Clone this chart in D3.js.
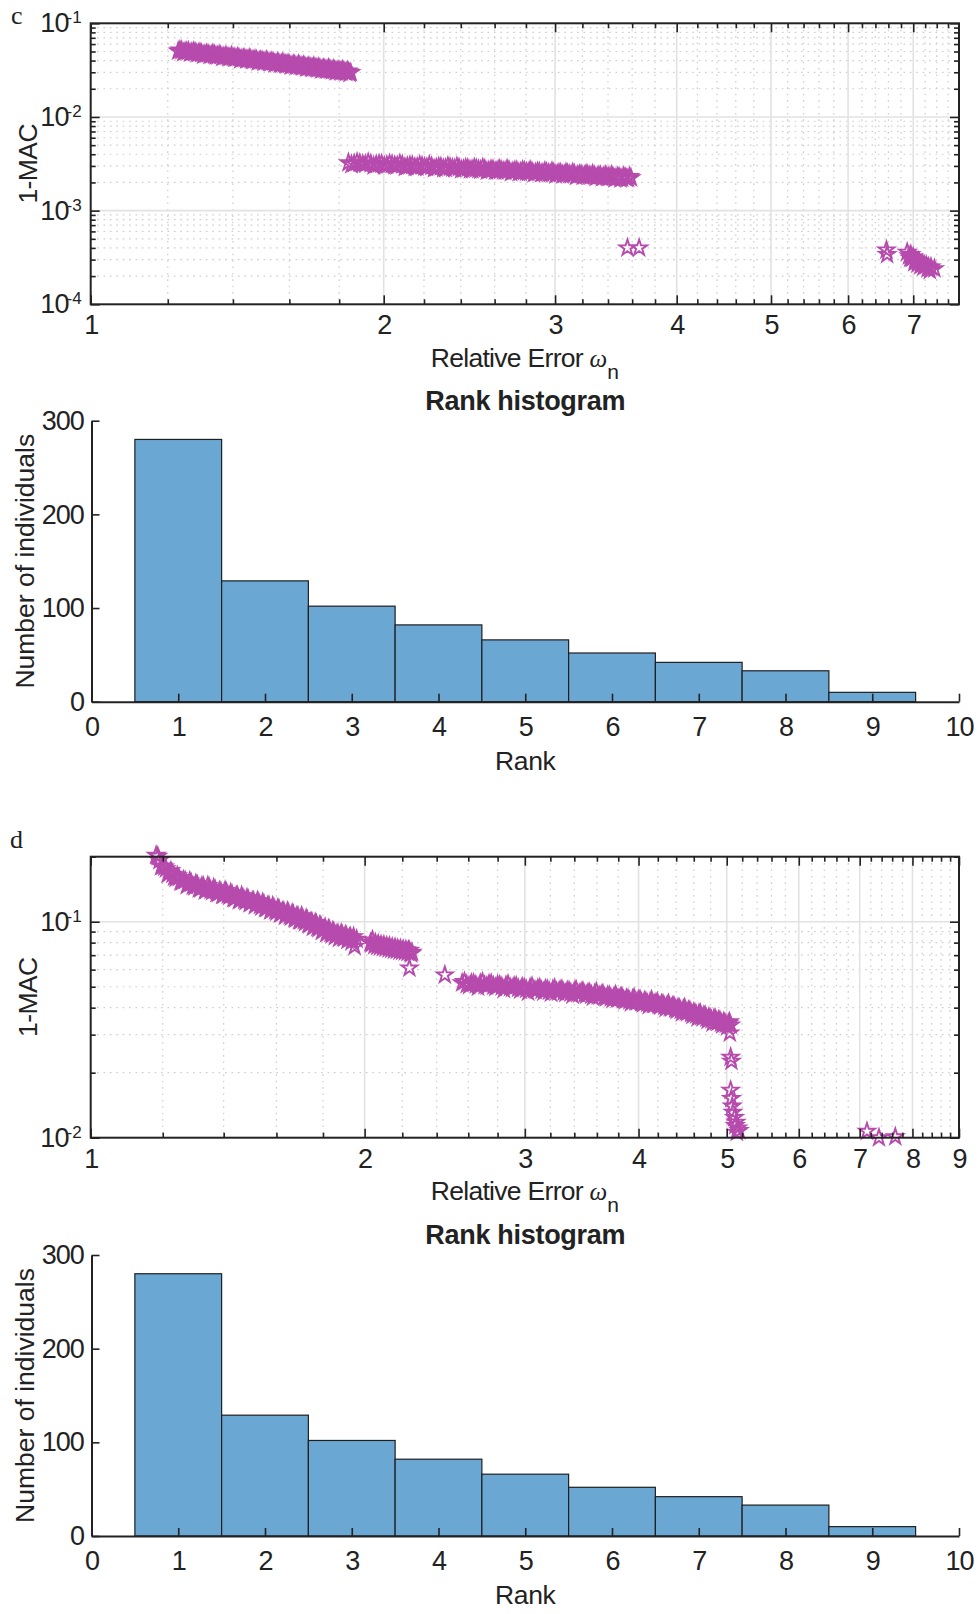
<!DOCTYPE html>
<html>
<head>
<meta charset="utf-8">
<script src="https://cdn.jsdelivr.net/npm/d3@7"></script>
<style>
  html, body { margin: 0; padding: 0; background: #fff; }
  svg { display: block; }
</style>
</head>
<body>
<script>
// ---------------- DATA ----------------
// Panel c scatter (Relative Error, 1-MAC)
const cBandA = [[1.23,.0505],[1.24,.0512],[1.25,.0498],[1.26,.0504],[1.27,.0490],[1.28,.0495],[1.29,.0480],[1.30,.0478],[1.31,.0466],[1.32,.0472],[1.33,.0460],[1.34,.0462],[1.35,.0449],[1.36,.0455],[1.37,.0441],[1.38,.0446],[1.39,.0432],[1.40,.0436],[1.41,.0425],[1.42,.0430],[1.43,.0418],[1.44,.0421],[1.45,.0410],[1.46,.0414],[1.47,.0402],[1.48,.0407],[1.49,.0396],[1.50,.0399],[1.51,.0388],[1.52,.0393],[1.53,.0381],[1.54,.0386],[1.55,.0374],[1.56,.0379],[1.57,.0368],[1.58,.0371],[1.59,.0361],[1.60,.0365],[1.61,.0355],[1.62,.0359],[1.63,.0349],[1.64,.0352],[1.65,.0344],[1.66,.0347],[1.67,.0338],[1.68,.0341],[1.69,.0332],[1.70,.0336],[1.71,.0327],[1.72,.0331],[1.73,.0322],[1.74,.0325],[1.75,.0318],[1.76,.0321],[1.77,.0313],[1.78,.0316],[1.79,.0308],[1.80,.0312],[1.81,.0304],[1.82,.0308],[1.83,.0300],[1.84,.0303],[1.85,.0298]];
const cBandA2 = [[1.235,.0517],[1.245,.0487],[1.255,.0502],[1.265,.0482],[1.275,.0502],[1.285,.0477],[1.295,.0488],[1.305,.0459],[1.315,.0474],[1.325,.0455],[1.335,.0474],[1.345,.0451],[1.355,.0460],[1.365,.0434],[1.375,.0447],[1.385,.0430],[1.395,.0448],[1.405,.0427],[1.415,.0436],[1.425,.0410],[1.435,.0423],[1.445,.0408],[1.455,.0424],[1.465,.0404],[1.475,.0413],[1.485,.0389],[1.495,.0401],[1.505,.0386],[1.515,.0403],[1.525,.0383],[1.535,.0392],[1.545,.0370],[1.555,.0382],[1.565,.0367],[1.575,.0382],[1.585,.0364],[1.595,.0372],[1.605,.0351],[1.615,.0363],[1.625,.0349],[1.635,.0365],[1.645,.0347],[1.655,.0355],[1.665,.0335],[1.675,.0346],[1.685,.0333],[1.695,.0347],[1.705,.0332],[1.715,.0339],[1.725,.0320],[1.735,.0330],[1.745,.0319],[1.755,.0332],[1.765,.0317],[1.775,.0324],[1.785,.0306],[1.795,.0316],[1.805,.0305],[1.815,.0317],[1.825,.0303],[1.835,.0310],[1.845,.0293]];
const cBandB = [[1.840,.00325],[1.865,.00318],[1.890,.00322],[1.915,.00314],[1.940,.00318],[1.965,.00311],[1.990,.00315],[2.015,.00306],[2.040,.00312],[2.065,.00303],[2.090,.00309],[2.115,.00298],[2.140,.00304],[2.165,.00293],[2.190,.00301],[2.215,.00290],[2.240,.00297],[2.265,.00287],[2.290,.00294],[2.315,.00284],[2.340,.00291],[2.365,.00281],[2.390,.00288],[2.415,.00278],[2.440,.00284],[2.465,.00275],[2.490,.00282],[2.515,.00272],[2.540,.00279],[2.565,.00269],[2.590,.00276],[2.615,.00267],[2.640,.00273],[2.665,.00264],[2.690,.00270],[2.715,.00262],[2.740,.00268],[2.765,.00259],[2.790,.00265],[2.815,.00257],[2.840,.00262],[2.865,.00254],[2.890,.00260],[2.915,.00252],[2.940,.00257],[2.965,.00249],[2.990,.00255],[3.015,.00247],[3.040,.00252],[3.065,.00244],[3.090,.00250],[3.115,.00241],[3.140,.00247],[3.165,.00239],[3.190,.00244],[3.215,.00236],[3.240,.00242],[3.265,.00234],[3.290,.00239],[3.315,.00231],[3.340,.00237],[3.365,.00229],[3.390,.00234],[3.415,.00227],[3.440,.00232],[3.465,.00225],[3.490,.00230],[3.515,.00223],[3.540,.00228],[3.565,.00221],[3.590,.00224]];
const cBandB2 = [[1.853,.00311],[1.878,.00329],[1.903,.00314],[1.928,.00328],[1.953,.00301],[1.978,.00315],[2.003,.00301],[2.028,.00317],[2.053,.00304],[2.078,.00317],[2.103,.00291],[2.128,.00304],[2.153,.00291],[2.178,.00307],[2.203,.00293],[2.228,.00307],[2.253,.00281],[2.278,.00295],[2.303,.00282],[2.328,.00298],[2.353,.00285],[2.378,.00297],[2.403,.00274],[2.428,.00286],[2.453,.00273],[2.478,.00287],[2.503,.00275],[2.528,.00287],[2.553,.00264],[2.578,.00276],[2.603,.00264],[2.628,.00279],[2.653,.00266],[2.678,.00279],[2.703,.00256],[2.728,.00268],[2.753,.00256],[2.778,.00271],[2.803,.00259],[2.828,.00270],[2.853,.00249],[2.878,.00261],[2.903,.00249],[2.928,.00264],[2.953,.00251],[2.978,.00263],[3.003,.00242],[3.028,.00253],[3.053,.00242],[3.078,.00254],[3.103,.00244],[3.128,.00255],[3.153,.00233],[3.178,.00244],[3.203,.00234],[3.228,.00247],[3.253,.00236],[3.278,.00246],[3.303,.00227],[3.328,.00237],[3.353,.00226],[3.378,.00239],[3.403,.00229],[3.428,.00239],[3.453,.00219],[3.478,.00229],[3.503,.00219],[3.528,.00232],[3.553,.00221],[3.578,.00231]];
const cOutliers = [[3.56,.00040],[3.66,.00040],[6.57,.00038],[6.58,.00034],[6.90,.00036],[6.93,.00033],[6.95,.00031],[6.96,.00034],[6.98,.00031],[7.00,.00032],[7.02,.00028],[7.03,.00030],[7.05,.00029],[7.07,.00027],[7.08,.00029],[7.10,.00028],[7.12,.00026],[7.13,.00027],[7.16,.00027],[7.17,.00025],[7.19,.00026],[7.22,.00026],[7.24,.00024],[7.26,.00025],[7.28,.00023],[7.30,.00025],[7.36,.00024]];

// Panel d scatter
const dBandA = [[1.18,.203],[1.19,.192],[1.20,.181],[1.21,.176],[1.22,.168],[1.23,.166],[1.24,.159],[1.25,.160],[1.26,.153],[1.27,.155],[1.28,.149],[1.29,.151],[1.30,.145],[1.31,.148],[1.32,.142],[1.33,.146],[1.34,.140],[1.35,.144],[1.36,.138],[1.37,.141],[1.38,.135],[1.39,.138],[1.40,.133],[1.41,.137],[1.42,.131],[1.43,.134],[1.44,.128],[1.45,.132],[1.46,.126],[1.47,.129],[1.48,.124],[1.49,.127],[1.50,.122],[1.51,.125],[1.52,.120],[1.53,.123],[1.54,.117],[1.55,.121],[1.56,.115],[1.57,.119],[1.58,.113],[1.59,.116],[1.60,.111],[1.61,.115],[1.62,.109],[1.63,.112],[1.64,.107],[1.65,.110],[1.66,.105],[1.67,.108],[1.68,.103],[1.69,.106],[1.70,.101],[1.71,.104],[1.72,.099],[1.73,.102],[1.74,.097],[1.75,.100],[1.76,.095],[1.77,.098],[1.78,.093],[1.79,.096],[1.80,.091],[1.81,.094],[1.82,.089],[1.83,.092],[1.84,.087],[1.85,.090],[1.86,.086],[1.87,.088],[1.88,.085],[1.89,.087],[1.90,.084],[1.91,.086],[1.92,.083],[1.93,.085],[1.94,.082],[1.95,.0767],[1.96,.083]];
const dBandA2 = [[1.185,.201],[1.195,.180],[1.205,.179],[1.215,.166],[1.225,.172],[1.235,.161],[1.245,.163],[1.255,.153],[1.265,.156],[1.275,.147],[1.285,.1545],[1.295,.1465],[1.305,.150],[1.315,.142],[1.325,.146],[1.335,.139],[1.345,.147],[1.355,.140],[1.365,.1435],[1.375,.1355],[1.385,.139],[1.395,.1325],[1.405,.1395],[1.415,.133],[1.425,.136],[1.435,.1285],[1.445,.132],[1.455,.1255],[1.465,.132],[1.475,.1257],[1.485,.129],[1.495,.1215],[1.505,.1247],[1.515,.1188],[1.525,.1251],[1.535,.1193],[1.545,.1225],[1.555,.1154],[1.565,.1184],[1.575,.1125],[1.585,.1182],[1.595,.1125],[1.605,.1153],[1.615,.1087],[1.625,.1116],[1.635,.1062],[1.645,.1118],[1.655,.1065],[1.665,.1095],[1.675,.1034],[1.685,.1063],[1.695,.1013],[1.705,.1065],[1.715,.1012],[1.725,.1035],[1.735,.0973],[1.745,.0996],[1.755,.0945],[1.765,.0991],[1.775,.0941],[1.785,.0961],[1.795,.0903],[1.805,.0925],[1.815,.0881],[1.825,.0927],[1.835,.0883],[1.845,.0906],[1.855,.0855],[1.865,.0880],[1.875,.0839],[1.885,.0885],[1.895,.0844],[1.905,.0868],[1.915,.0821],[1.925,.0845],[1.935,.0807],[1.945,.0852]];
const dClusterB = [[2.03,.0800],[2.035,.0790],[2.04,.0823],[2.05,.0775],[2.055,.0800],[2.065,.0770],[2.07,.0790],[2.08,.0765],[2.085,.0782],[2.095,.0760],[2.10,.0780],[2.11,.0755],[2.115,.0772],[2.125,.0750],[2.13,.0770],[2.14,.0745],[2.145,.0762],[2.155,.0740],[2.16,.0760],[2.17,.0738],[2.175,.0752],[2.185,.0732],[2.19,.0750],[2.20,.0730],[2.205,.0745],[2.215,.0725],[2.22,.0742],[2.23,.0722],[2.235,.0738],[2.24,.0735],[2.245,.0718],[2.25,.0710],[2.255,.0722],[2.24,.0610],[2.45,.0567]];
const dBandC = [[2.56,.0521],[2.59,.0512],[2.62,.0520],[2.65,.0510],[2.68,.0518],[2.71,.0507],[2.74,.0515],[2.77,.0504],[2.80,.0511],[2.83,.0500],[2.86,.0507],[2.89,.0496],[2.92,.0503],[2.95,.0492],[2.98,.0499],[3.01,.0487],[3.04,.0495],[3.07,.0484],[3.10,.0491],[3.13,.0481],[3.16,.0488],[3.19,.0478],[3.22,.0486],[3.25,.0475],[3.28,.0483],[3.31,.0472],[3.34,.0480],[3.37,.0469],[3.40,.0477],[3.43,.0466],[3.46,.0473],[3.49,.0462],[3.52,.0469],[3.55,.0458],[3.58,.0465],[3.61,.0454],[3.64,.0460],[3.67,.0449],[3.70,.0456],[3.73,.0445],[3.76,.0451],[3.79,.0440],[3.82,.0447],[3.85,.0436],[3.88,.0442],[3.91,.0431],[3.94,.0438],[3.97,.0427],[4.00,.0434],[4.03,.0423],[4.06,.0430],[4.09,.0419],[4.12,.0426],[4.15,.0415],[4.18,.0421],[4.21,.0411],[4.24,.0416],[4.27,.0406],[4.30,.0411],[4.33,.0401],[4.36,.0406],[4.39,.0395],[4.42,.0400],[4.45,.0389],[4.48,.0394],[4.51,.0383],[4.54,.0388],[4.57,.0377],[4.60,.0381],[4.63,.0371],[4.66,.0375],[4.69,.0364],[4.72,.0369],[4.75,.0358],[4.78,.0362],[4.81,.0352],[4.84,.0356],[4.87,.0346],[4.90,.0350],[4.93,.0340],[4.96,.0344],[4.99,.0336],[5.02,.0338],[5.05,.0332]];
const dBandC2 = [[2.575,.0528],[2.605,.0506],[2.635,.0520],[2.665,.0498],[2.695,.0526],[2.725,.0504],[2.755,.0518],[2.785,.0497],[2.815,.0510],[2.845,.0487],[2.875,.0514],[2.905,.0492],[2.935,.0505],[2.965,.0483],[2.995,.0495],[3.025,.0473],[3.055,.0502],[3.085,.0481],[3.115,.0495],[3.145,.0473],[3.175,.0487],[3.205,.0467],[3.235,.0493],[3.265,.0473],[3.295,.0486],[3.325,.0466],[3.355,.0479],[3.385,.0458],[3.415,.0485],[3.445,.0464],[3.475,.0477],[3.505,.0458],[3.535,.0470],[3.565,.0448],[3.595,.0474],[3.625,.0453],[3.655,.0465],[3.685,.0444],[3.715,.0456],[3.745,.0436],[3.775,.0459],[3.805,.0440],[3.835,.0450],[3.865,.0430],[3.895,.0440],[3.925,.0421],[3.955,.0445],[3.985,.0426],[4.015,.0437],[4.045,.0417],[4.075,.0428],[4.105,.0409],[4.135,.0434],[4.165,.0415],[4.195,.0425],[4.225,.0407],[4.255,.0416],[4.285,.0397],[4.315,.0418],[4.345,.0399],[4.375,.0408],[4.405,.0389],[4.435,.0398],[4.465,.0379],[4.495,.0400],[4.525,.0380],[4.555,.0388],[4.585,.0369],[4.615,.0377],[4.645,.0359],[4.675,.0378],[4.705,.0359],[4.735,.0367],[4.765,.0350],[4.795,.0358],[4.825,.0340],[4.855,.0358],[4.885,.0342],[4.915,.0349],[4.945,.0333],[4.975,.0341],[5.005,.0326],[5.035,.0344]];
const dTail = [[5.04,.0305],[5.05,.0236],[5.06,.0226],[5.05,.0166],[5.06,.0152],[5.07,.0140],[5.08,.0131],[5.10,.0124],[5.12,.0118],[5.11,.0114],[5.14,.0111],[5.16,.0108],[5.13,.0106],[7.13,.0107],[7.35,.0100],[7.66,.0101]];

// Rank histograms
const ranks = [1,2,3,4,5,6,7,8,9];
const cCounts = [280,129,102,82,66,52,42,33,10];
const dCounts = [280,129,102,82,66,52,42,33,10];

// Tick labels
const cXTicks = [1,2,3,4,5,6,7];
const cYTicks = [1e-1,1e-2,1e-3,1e-4];
const dXTicks = [1,2,3,4,5,6,7,8,9];
const dYTicks = [1e-1,1e-2];
const histXTicks = [0,1,2,3,4,5,6,7,8,9,10];
const histYTicks = [0,100,200,300];

// ---------------- DRAW ----------------
const W = 980, H = 1614;
const FONT = "'Liberation Sans', Arial, Helvetica, sans-serif";
const INK = "#222";
const STAR = "#b64bad";
const BAR = "#6aa7d3";

const svg = d3.select("body").append("svg").attr("width", W).attr("height", H)
  .attr("font-family", FONT);
svg.append("rect").attr("width", W).attr("height", H).attr("fill", "#fff");

function styleTickText(sel) {
  sel.selectAll("text").attr("font-size", 27).attr("letter-spacing", "-0.9px")
    .attr("fill", INK).attr("font-family", FONT);
}

function scatterPanel(cfg) {
  const L = 90.7, R = 959, T = cfg.top, B = cfg.top + 281;
  const x = d3.scaleLog().domain([1, cfg.xMax]).range([L, R]);
  const y = d3.scaleLog().domain([cfg.yMin, cfg.yMax]).range([B, T]);
  const g = svg.append("g");

  const xMinor = d3.range(1.2, cfg.xMax - 0.05, 0.2)
    .filter(v => Math.abs(v - Math.round(v)) > 1e-6);
  const yMinor = [];
  for (let e = Math.floor(Math.log10(cfg.yMin)); e <= Math.ceil(Math.log10(cfg.yMax)); e++) {
    for (let k = 2; k <= 9; k++) {
      const v = k * Math.pow(10, e);
      if (v > cfg.yMin * 1.0001 && v <= cfg.yMax * 1.0001) yMinor.push(v);
    }
  }
  const xMajorInner = cfg.xTicks.filter(v => v > 1 && v < cfg.xMax);
  const yMajorInner = cfg.yTicks.filter(v => v > cfg.yMin * 1.0001 && v < cfg.yMax * 0.9999);

  // minor grid (dotted)
  const grid = g.append("g");
  grid.selectAll(".vmin").data(xMinor).join("line")
    .attr("x1", d => x(d)).attr("x2", d => x(d)).attr("y1", T).attr("y2", B)
    .attr("stroke", "#cdcdcd").attr("stroke-width", 1.2).attr("stroke-dasharray", "1.6 4.8");
  grid.selectAll(".hmin").data(yMinor).join("line")
    .attr("x1", L).attr("x2", R).attr("y1", d => y(d)).attr("y2", d => y(d))
    .attr("stroke", "#cdcdcd").attr("stroke-width", 1.2).attr("stroke-dasharray", "1.6 4.8");
  // major grid (solid)
  grid.selectAll(".vmaj").data(xMajorInner).join("line")
    .attr("x1", d => x(d)).attr("x2", d => x(d)).attr("y1", T).attr("y2", B)
    .attr("stroke", "#e2e2e2").attr("stroke-width", 1.6);
  grid.selectAll(".hmaj").data(yMajorInner).join("line")
    .attr("x1", L).attr("x2", R).attr("y1", d => y(d)).attr("y2", d => y(d))
    .attr("stroke", "#e2e2e2").attr("stroke-width", 1.6);

  // markers
  const star = d3.symbol().type(d3.symbolStar).size(78);
  const pts = [].concat(...cfg.series);
  g.append("g").selectAll("path").data(pts).join("path")
    .attr("transform", d => `translate(${x(d[0])},${y(d[1])})`)
    .attr("d", star)
    .attr("fill", "none").attr("stroke", STAR).attr("stroke-width", 1.9)
    .attr("stroke-linejoin", "miter");

  // ticks (inward, all 4 sides)
  const tk = (axis) => axis.tickSizeOuter(0);
  const axes = [
    [d3.axisBottom(x).tickValues(cfg.xTicks).tickSize(-9).tickPadding(11).tickFormat(d3.format("d")), `translate(0,${B})`, true],
    [d3.axisBottom(x).tickValues(xMinor).tickSize(-5).tickFormat(""), `translate(0,${B})`, false],
    [d3.axisTop(x).tickValues(cfg.xTicks).tickSize(-9).tickFormat(""), `translate(0,${T})`, false],
    [d3.axisTop(x).tickValues(xMinor).tickSize(-5).tickFormat(""), `translate(0,${T})`, false],
    [d3.axisLeft(y).tickValues(yMinor).tickSize(-5).tickFormat(""), `translate(${L},0)`, false],
    [d3.axisRight(y).tickValues(cfg.yTicks).tickSize(-9).tickFormat(""), `translate(${R},0)`, false],
    [d3.axisRight(y).tickValues(yMinor).tickSize(-5).tickFormat(""), `translate(${R},0)`, false]
  ];
  axes.forEach(([ax, tr, lab]) => {
    const a = g.append("g").attr("transform", tr).call(tk(ax));
    a.select(".domain").remove();
    a.selectAll("line").attr("stroke", INK).attr("stroke-width", 1.6);
    if (lab) styleTickText(a); else a.selectAll("text").remove();
  });
  // left major with 10^n labels
  const ly = g.append("g").attr("transform", `translate(${L},0)`)
    .call(d3.axisLeft(y).tickValues(cfg.yTicks).tickSize(-9).tickPadding(9).tickFormat(""));
  ly.select(".domain").remove();
  ly.selectAll("line").attr("stroke", INK).attr("stroke-width", 1.6);
  ly.selectAll("text").each(function(d) {
    const t = d3.select(this).text(null).attr("font-size", 27).attr("fill", INK)
      .attr("font-family", FONT).attr("letter-spacing", "-0.9px");
    t.append("tspan").text("10");
    t.append("tspan").attr("dy", -9).attr("dx", -2).attr("font-size", 17).attr("letter-spacing", "0px")
      .text(String(Math.round(Math.log10(d))));
  });

  // box
  g.append("rect").attr("x", L).attr("y", T).attr("width", R - L).attr("height", B - T)
    .attr("fill", "none").attr("stroke", INK).attr("stroke-width", 2);

  // labels
  const xl = g.append("text").attr("x", (L + R) / 2).attr("y", B + 62.4)
    .attr("text-anchor", "middle").attr("font-size", 26.5).attr("fill", INK)
    .attr("letter-spacing", "-0.7px");
  xl.append("tspan").text("Relative Error ");
  xl.append("tspan").attr("font-family", "'Liberation Serif', 'DejaVu Serif', serif")
    .attr("font-style", "italic").attr("font-size", 25).attr("letter-spacing", "0px").text("ω");
  xl.append("tspan").attr("font-size", 21).attr("dy", 12).attr("letter-spacing", "0px").text("n");

  g.append("text").attr("transform", `translate(37,${(T + B) / 2}) rotate(-90)`)
    .attr("text-anchor", "middle").attr("font-size", 26.5).attr("fill", INK)
    .attr("letter-spacing", "-0.6px").text("1-MAC");

  g.append("text").attr("x", cfg.tagX).attr("y", cfg.tagY)
    .attr("font-family", "'Liberation Serif', 'DejaVu Serif', serif")
    .attr("font-size", 26).attr("fill", INK).text(cfg.tag);
}

function histPanel(cfg) {
  const L = 91.5, R = 959, T = cfg.top, B = cfg.top + 281;
  const x = d3.scaleLinear().domain([0, 10]).range([L, R]);
  const y = d3.scaleLinear().domain([0, 300]).range([B, T]);
  const g = svg.append("g");

  g.append("g").selectAll("rect").data(ranks.map((r, i) => [r, cfg.counts[i]])).join("rect")
    .attr("x", d => x(d[0] - 0.5)).attr("width", d => x(d[0] + 0.5) - x(d[0] - 0.5))
    .attr("y", d => y(d[1])).attr("height", d => y(0) - y(d[1]))
    .attr("fill", BAR).attr("stroke", "#1f1f1f").attr("stroke-width", 1.2);

  const ax = g.append("g").attr("transform", `translate(0,${B})`)
    .call(d3.axisBottom(x).tickValues(histXTicks).tickSize(-8).tickSizeOuter(0).tickPadding(15).tickFormat(d3.format("d")));
  ax.select(".domain").attr("stroke", INK).attr("stroke-width", 2);
  ax.selectAll("line").attr("stroke", INK).attr("stroke-width", 1.6);
  styleTickText(ax);

  const ay = g.append("g").attr("transform", `translate(${L},0)`)
    .call(d3.axisLeft(y).tickValues(histYTicks).tickSize(-8).tickSizeOuter(0).tickPadding(7.5).tickFormat(d3.format("d")));
  ay.select(".domain").attr("stroke", INK).attr("stroke-width", 2);
  ay.selectAll("line").attr("stroke", INK).attr("stroke-width", 1.6);
  styleTickText(ay);

  g.append("text").attr("x", (L + R) / 2).attr("y", T - 11).attr("text-anchor", "middle")
    .attr("font-size", 27).attr("font-weight", "bold").attr("letter-spacing", "-0.3px")
    .attr("fill", INK).text("Rank histogram");
  g.append("text").attr("x", (L + R) / 2).attr("y", B + 68).attr("text-anchor", "middle")
    .attr("font-size", 26.5).attr("letter-spacing", "-0.3px").attr("fill", INK).text("Rank");
  g.append("text").attr("transform", `translate(34,${(T + B) / 2}) rotate(-90)`)
    .attr("text-anchor", "middle").attr("font-size", 26.5)
    .attr("fill", INK).text("Number of individuals");
}

scatterPanel({ top: 23.3, xMax: 7.8, yMin: 1e-4, yMax: 1e-1, xTicks: cXTicks, yTicks: cYTicks,
  series: [cBandA, cBandA2, cBandB, cBandB2, cOutliers], tag: "c", tagX: 11, tagY: 24 });
histPanel({ top: 420.7, counts: cCounts });
scatterPanel({ top: 856.7, xMax: 9, yMin: 1e-2, yMax: 0.2, xTicks: dXTicks, yTicks: dYTicks,
  series: [dBandA, dBandA2, dClusterB, dBandC, dBandC2, dTail], tag: "d", tagX: 10, tagY: 848.3 });
histPanel({ top: 1255, counts: dCounts });
</script>
</body>
</html>
